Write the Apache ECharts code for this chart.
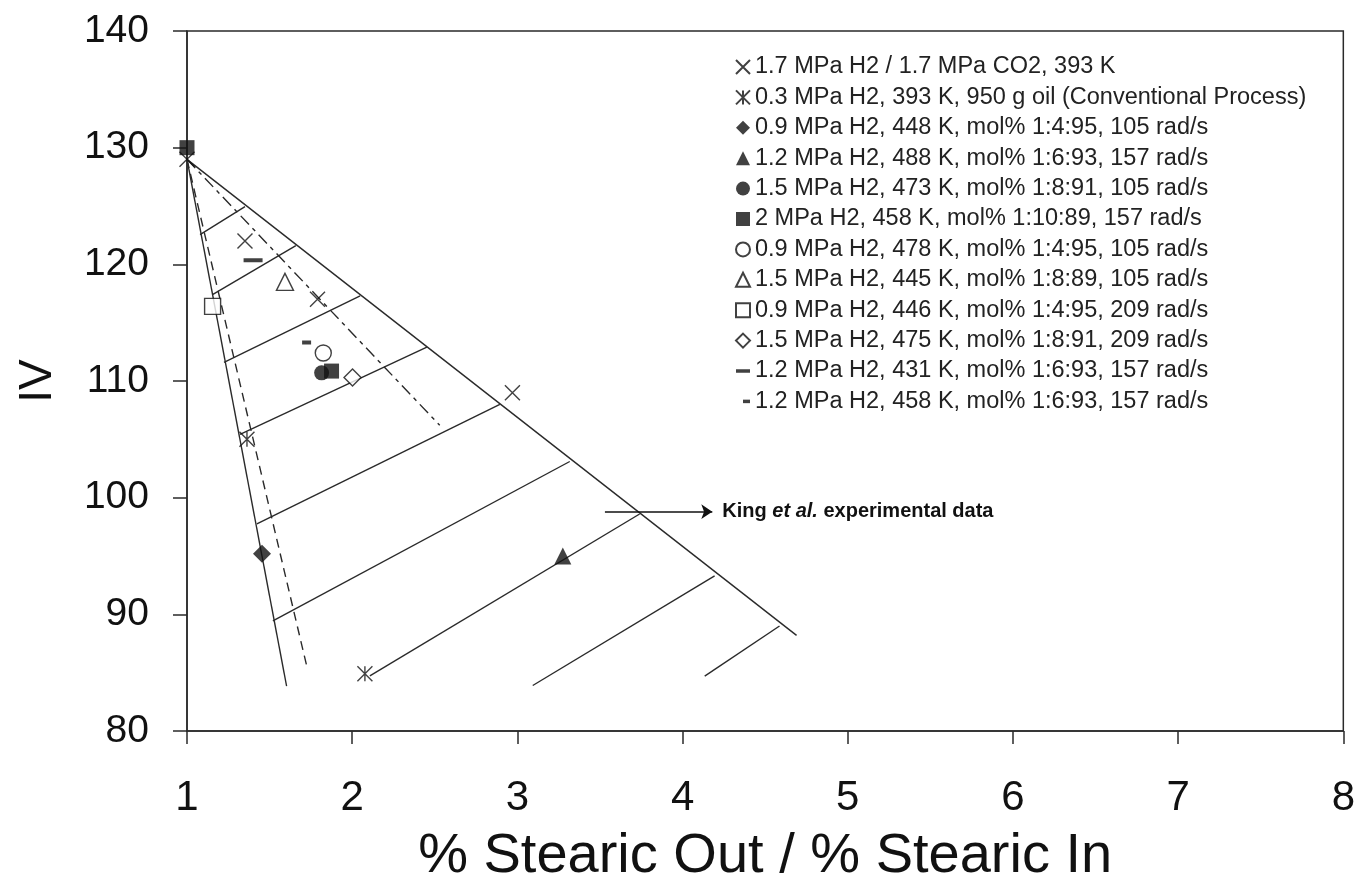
<!DOCTYPE html>
<html>
<head>
<meta charset="utf-8">
<script src="https://cdn.jsdelivr.net/npm/echarts@6/dist/echarts.min.js"></script>
<style>
  html, body { margin: 0; padding: 0; background: #fff; }
  #chart { width: 1358px; height: 890px; }
</style>
</head>
<body>
<div id="chart"></div>
<script>
// Axis ranges and tick settings
const xRange = [1, 8];
const yRange = [80, 140];

// Wedge boundaries: all start at the common origin point
const upperEdge   = [[1, 129], [4.69, 88.2]];
const lowerEdge   = [[1, 129], [1.603, 83.85]];
const dashedEdge  = [[1, 129], [1.726, 85.5]];
const dashDotEdge = [[1, 129], [2.53, 106.2]];

// Constant-selectivity tie lines across the wedge
const tieLines = [
  [[1.079, 122.54], [1.351, 124.94]],
  [[1.157, 117.42], [1.659, 121.6]],
  [[1.224, 111.6],  [2.048, 117.3]],
  [[1.321, 105.43], [2.452, 112.9]],
  [[1.423, 97.75],  [2.894, 108.0]],
  [[1.520, 89.44],  [3.317, 103.1]],
  [[2.107, 84.73],  [3.74, 98.6]],
  [[3.093, 83.9],   [4.194, 93.3]],
  [[4.134, 84.7],   [4.587, 89.0]]
];

// Pointer to the literature data
const arrowLine = [[3.53, 98.8], [4.18, 98.8]];

// Experimental runs
const seriesNames = [
  '1.7 MPa H2 / 1.7 MPa CO2, 393 K',
  '0.3 MPa H2, 393 K, 950 g oil (Conventional Process)',
  '0.9 MPa H2, 448 K, mol% 1:4:95, 105 rad/s',
  '1.2 MPa H2, 488 K, mol% 1:6:93, 157 rad/s',
  '1.5 MPa H2, 473 K, mol% 1:8:91, 105 rad/s',
  '2 MPa H2, 458 K, mol% 1:10:89, 157 rad/s',
  '0.9 MPa H2, 478 K, mol% 1:4:95, 105 rad/s',
  '1.5 MPa H2, 445 K, mol% 1:8:89, 105 rad/s',
  '0.9 MPa H2, 446 K, mol% 1:4:95, 209 rad/s',
  '1.5 MPa H2, 475 K, mol% 1:8:91, 209 rad/s',
  '1.2 MPa H2, 431 K, mol% 1:6:93, 157 rad/s',
  '1.2 MPa H2, 458 K, mol% 1:6:93, 157 rad/s'
];
const crossPts      = [[1, 129], [1.351, 122.0], [1.79, 117.0], [2.97, 109.0]];
const starPts       = [[1.363, 105.0], [2.077, 84.9]];
const diamondPts    = [[1.454, 95.2]];
const trianglePts   = [[3.275, 95.0]];
const circlePts     = [[1.815, 110.7]];
const squarePts     = [[1, 130], [1.875, 110.85]];
const openCirclePts = [[1.825, 112.4]];
const openTriPts    = [[1.593, 118.5]];
const openSquarePts = [[1.155, 116.4]];
const openDiamPts   = [[2.002, 110.3]];
const longDashPts   = [[1.40, 120.35]];
const shortDashPts  = [[1.724, 113.3]];

const INK = '#111';
const LINE = '#2a2a2a';
const FONT = 'Liberation Sans, Arial, Helvetica, sans-serif';

const CROSS = 'path://M0,0L10,10M10,0L0,10';
const STAR = 'path://M0,0L10,10M10,0L0,10M5,0L5,10';
const LONG_DASH = 'path://M0,0h10v2h-10z';
const SHORT_DASH = 'path://M0,0h10v4h-10z';

function edge(data, type) {
  return {
    type: 'line', data: data, symbol: 'none', silent: true, z: 1,
    lineStyle: { color: LINE, width: 1.4, type: type || 'solid' }
  };
}

function marks(name, data, symbol, size, filled, stroke) {
  return {
    type: 'scatter', name: name, data: data, symbol: symbol, symbolSize: size, z: 5,
    itemStyle: filled
      ? { color: INK, borderColor: INK, borderWidth: stroke ? 1.3 : 0 }
      : { color: stroke ? 'rgba(0,0,0,0)' : '#fff', borderColor: INK, borderWidth: 1.4 }
  };
}

const series = [
  edge(upperEdge), edge(lowerEdge), edge(dashedEdge, [9, 6]), edge(dashDotEdge, [12, 5, 4, 5]),
  {
    type: 'lines', coordinateSystem: 'cartesian2d', silent: true, z: 1,
    lineStyle: { color: LINE, width: 1.4, opacity: 1 },
    data: tieLines.map(c => ({ coords: c }))
  },
  {
    type: 'lines', coordinateSystem: 'cartesian2d', silent: true, z: 2,
    symbol: ['none', 'arrow'], symbolSize: 11,
    lineStyle: { color: INK, width: 1.6, opacity: 1 },
    label: {
      show: true, position: 'end', distance: 10, color: INK, fontFamily: FONT,
      formatter: '{b|King }{i|et al.}{b| experimental data}',
      rich: {
        b: { fontSize: 20, fontWeight: 'bold', fontFamily: FONT, color: INK },
        i: { fontSize: 20, fontWeight: 'bold', fontStyle: 'italic', fontFamily: FONT, color: INK }
      }
    },
    data: [{ coords: arrowLine }]
  },
  marks(seriesNames[0], crossPts, CROSS, 15, false, true),
  marks(seriesNames[1], starPts, STAR, 15, false, true),
  marks(seriesNames[2], diamondPts, 'diamond', 18, true),
  marks(seriesNames[3], trianglePts, 'triangle', 17, true),
  marks(seriesNames[4], circlePts, 'circle', 15, true),
  marks(seriesNames[5], squarePts, 'rect', 15, true),
  marks(seriesNames[6], openCirclePts, 'circle', 16, false),
  marks(seriesNames[7], openTriPts, 'triangle', 17, false),
  marks(seriesNames[8], openSquarePts, 'rect', 16, false),
  marks(seriesNames[9], openDiamPts, 'diamond', 17, false),
  marks(seriesNames[10], longDashPts, LONG_DASH, [19, 4], true),
  marks(seriesNames[11], shortDashPts, SHORT_DASH, [9, 4], true)
];

// legend icons for the two dash markers
const legendIcons = {
  10: 'path://M0,0h10v2.5h-10z',
  11: 'path://M0,0M0,8M8,2h8v4h-8z'
};

const chart = echarts.init(document.getElementById('chart'), null, { renderer: 'canvas' });
chart.setOption({
  backgroundColor: '#fff',
  animation: false,
  grid: { left: 187, right: 14, top: 31, bottom: 158, show: true, borderColor: LINE, borderWidth: 1.5 },
  legend: {
    orient: 'vertical', left: 730, top: 50,
    itemWidth: 14, itemHeight: 14, itemGap: 6.4,
    selectedMode: false,
    textStyle: { fontSize: 23.5, color: '#222', fontFamily: FONT },
    data: seriesNames.map((n, i) => legendIcons[i] ? { name: n, icon: legendIcons[i] } : { name: n })
  },
  xAxis: {
    type: 'value', min: xRange[0], max: xRange[1], interval: 1,
    name: '% Stearic Out / % Stearic In', nameLocation: 'middle', nameGap: 98,
    nameTextStyle: { fontSize: 56, color: INK, fontFamily: FONT },
    axisLine: { onZero: false, lineStyle: { color: LINE, width: 1.5 } },
    axisTick: { show: true, inside: false, length: 13, lineStyle: { color: LINE, width: 1.5 } },
    axisLabel: { fontSize: 42, color: INK, fontFamily: FONT, margin: 46 },
    splitLine: { show: false }
  },
  yAxis: {
    type: 'value', min: yRange[0], max: yRange[1], interval: 10,
    name: 'IV', nameLocation: 'middle', nameGap: 126, nameRotate: 90,
    nameTextStyle: { fontSize: 46, color: INK, fontFamily: FONT },
    axisLine: { onZero: false, lineStyle: { color: LINE, width: 1.5 } },
    axisTick: { show: true, inside: false, length: 14, lineStyle: { color: LINE, width: 1.5 } },
    axisLabel: { fontSize: 39, color: INK, fontFamily: FONT, margin: 38 },
    splitLine: { show: false }
  },
  series: series
});
</script>
</body>
</html>
